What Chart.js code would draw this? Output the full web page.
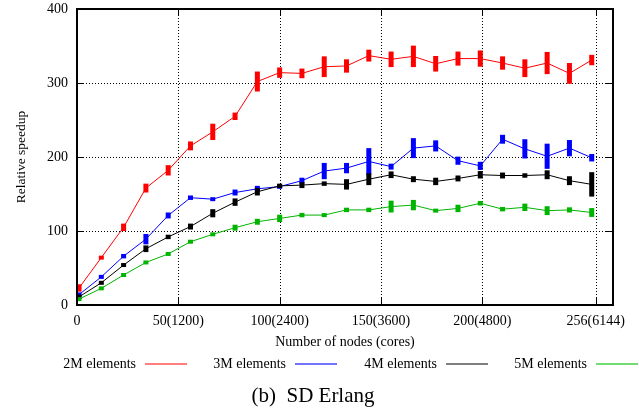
<!DOCTYPE html>
<html>
<head>
<meta charset="utf-8">
<script src="https://cdn.jsdelivr.net/npm/chart.js@4/dist/chart.umd.min.js"></script>
<style>
  html, body { margin: 0; padding: 0; background: #fff; }
  canvas { display: block; }
</style>
</head>
<body>
<canvas id="c" width="639" height="412"></canvas>
<script>
// ---- data ----
const nodes = [1, 12, 23, 34, 45, 56, 67, 78, 89, 100, 111, 122, 133, 144, 155, 166, 177, 188, 199, 210, 221, 232, 243, 254];

const speedup2M = [23, 64, 105, 158, 182, 215, 234, 255, 302, 314, 313, 322, 323, 337, 332, 336, 326, 333, 333, 327, 320, 327, 313, 331];
const err2M     = [5, 2, 5, 6, 7, 6, 11, 5, 13.5, 7, 6.5, 14, 9, 8, 10.5, 14.5, 10.5, 9.5, 11, 9, 12, 15, 14, 7];

const speedup3M = [14, 38, 66, 89, 121, 145, 143, 152, 157, 160, 168, 181, 185, 194, 187, 212, 215, 195, 188, 224, 211, 201, 212, 199];
const err3M     = [3, 2, 3, 7, 4, 3, 2, 4, 4, 3, 4, 11, 7, 18, 4, 13.5, 7.5, 5.5, 5.5, 6, 13, 17, 11, 5];

const speedup4M = [11, 30, 54, 76, 92, 106, 124, 139, 153, 161, 162, 164, 163, 170, 176, 170, 167, 171, 176, 175, 175, 176, 168, 163];
const err4M     = [3, 2, 2, 4.5, 3, 4, 5.5, 5, 5, 3, 4, 3, 7, 8, 4.5, 4, 5, 4, 5, 4, 3, 6, 6, 16.5];

const speedup5M = [8, 22.5, 40.5, 57.5, 69, 85.5, 95.5, 104.5, 112.5, 117, 121.5, 121.5, 128.5, 128.5, 133, 135, 127.5, 130.5, 137.5, 129.5, 132, 127.5, 128.5, 125];
const err5M     = [2, 2, 2, 2, 2, 2.5, 2.5, 4, 4, 5, 3, 2.5, 3, 3, 8, 7, 2.5, 5, 3, 3, 5, 6, 3.5, 6];

const seriesNames = ['2M elements', '3M elements', '4M elements', '5M elements'];
const seriesValues = [speedup2M, speedup3M, speedup4M, speedup5M];
const seriesErrors = [err2M, err3M, err4M, err5M];

const xTickValues = [0, 50, 100, 150, 200, 256];
const xTickLabels = ['0', '50(1200)', '100(2400)', '150(3600)', '200(4800)', '256(6144)'];
const yTickValues = [0, 100, 200, 300, 400];

const xTitle = 'Number of nodes (cores)';
const yTitle = 'Relative speedup';
const caption = '(b)  SD Erlang';

// ---- styles ----
const colors = ['#ff0000', '#0000ff', '#000000', '#00b400'];
const legendColors = ['rgba(255,0,0,0.5)', 'rgba(0,0,255,0.55)', 'rgba(0,0,0,0.5)', 'rgba(0,190,0,0.55)'];
const FONT = "'Liberation Serif', 'Times New Roman', serif";

Chart.defaults.font.family = FONT;
Chart.defaults.font.size = 14;
Chart.defaults.color = '#000';

const deco = {
  id: 'deco',
  beforeDatasetsDraw(chart) {
    const { ctx, chartArea: a, scales: { x, y } } = chart;
    ctx.save();
    ctx.strokeStyle = '#000';
    ctx.lineWidth = 1;
    ctx.setLineDash([1, 2]);
    xTickValues.forEach(v => {
      if (v <= 0) return;
      const px = Math.round(x.getPixelForValue(v)) + 0.5;
      ctx.beginPath(); ctx.moveTo(px, a.top); ctx.lineTo(px, a.bottom); ctx.stroke();
    });
    yTickValues.forEach(v => {
      if (v <= 0 || v >= 400) return;
      const py = Math.round(y.getPixelForValue(v)) + 0.5;
      ctx.beginPath(); ctx.moveTo(a.left, py); ctx.lineTo(a.right, py); ctx.stroke();
    });
    ctx.restore();
  },
  afterDatasetDraw(chart, args) {
    const i = args.index;
    const { ctx, scales: { y } } = chart;
    const meta = chart.getDatasetMeta(i);
    const vals = seriesValues[i], errs = seriesErrors[i];
    ctx.save();
    ctx.fillStyle = colors[i];
    meta.data.forEach((pt, j) => {
      let top = y.getPixelForValue(vals[j] + errs[j]);
      let bot = y.getPixelForValue(vals[j] - errs[j]);
      if (bot - top < 4) { const c = (top + bot) / 2; top = c - 2; bot = c + 2; }
      ctx.fillRect(pt.x - 2.5, top, 5, bot - top);
    });
    ctx.restore();
  },
  afterDraw(chart) {
    const { ctx, chartArea: a, scales: { x, y } } = chart;
    ctx.save();
    // border
    ctx.strokeStyle = '#000';
    ctx.lineWidth = 2;
    ctx.strokeRect(a.left, a.top, a.right - a.left, a.bottom - a.top);
    // inward ticks (mirrored)
    ctx.lineWidth = 1;
    const tl = 7;
    xTickValues.forEach(v => {
      const px = Math.round(x.getPixelForValue(v)) + 0.5;
      ctx.beginPath();
      ctx.moveTo(px, a.bottom); ctx.lineTo(px, a.bottom - tl);
      ctx.moveTo(px, a.top); ctx.lineTo(px, a.top + tl);
      ctx.stroke();
    });
    yTickValues.forEach(v => {
      const py = Math.round(y.getPixelForValue(v)) + 0.5;
      ctx.beginPath();
      ctx.moveTo(a.left, py); ctx.lineTo(a.left + tl, py);
      ctx.moveTo(a.right, py); ctx.lineTo(a.right - tl, py);
      ctx.stroke();
    });
    // axis titles
    ctx.fillStyle = '#000';
    ctx.font = '14px ' + FONT;
    ctx.textAlign = 'center';
    ctx.textBaseline = 'middle';
    ctx.fillText(xTitle, (a.left + a.right) / 2, 342);
    ctx.save();
    ctx.translate(21, (a.top + a.bottom) / 2);
    ctx.rotate(-Math.PI / 2);
    ctx.font = '13.5px ' + FONT;
    ctx.fillText(yTitle, 0, 0);
    ctx.restore();
    // legend: text then line sample
    const textRight = [136, 286, 437, 587];
    ctx.font = '14px ' + FONT;
    ctx.textAlign = 'right';
    seriesNames.forEach((name, i) => {
      ctx.fillStyle = '#000';
      ctx.fillText(name, textRight[i], 364);
      ctx.strokeStyle = legendColors[i];
      ctx.lineWidth = 2;
      ctx.beginPath();
      ctx.moveTo(textRight[i] + 9, 364);
      ctx.lineTo(textRight[i] + 51, 364);
      ctx.stroke();
    });
    // caption
    ctx.font = '21px ' + FONT;
    ctx.textAlign = 'center';
    ctx.fillStyle = '#000';
    ctx.fillText(caption, 313, 396);
    ctx.restore();
  }
};

const datasets = seriesNames.map((name, i) => ({
  label: name,
  data: nodes.map((n, j) => ({ x: n, y: seriesValues[i][j] })),
  borderColor: colors[i],
  backgroundColor: colors[i],
  borderWidth: 1,
  pointRadius: 0,
  tension: 0,
  order: 3 - i
}));

new Chart(document.getElementById('c'), {
  type: 'line',
  data: { datasets },
  options: {
    responsive: false,
    animation: false,
    devicePixelRatio: 1,
    layout: { padding: { top: 9, right: 26, left: 0, bottom: 0 } },
    plugins: { legend: { display: false }, tooltip: { enabled: false }, title: { display: false } },
    scales: {
      x: {
        type: 'linear',
        min: 0,
        max: 264.5,
        afterBuildTicks: s => { s.ticks = xTickValues.map(v => ({ value: v })); },
        afterFit: s => { s.height = 107; s.paddingLeft = 0; s.paddingRight = 0; },
        grid: { display: false, drawTicks: false },
        border: { display: false },
        ticks: {
          autoSkip: false,
          maxRotation: 0,
          padding: 8,
          font: { size: 14 },
          callback: v => { const k = xTickValues.indexOf(v); return k >= 0 ? xTickLabels[k] : ''; }
        }
      },
      y: {
        min: 0,
        max: 400,
        afterBuildTicks: s => { s.ticks = yTickValues.map(v => ({ value: v })); },
        afterFit: s => { s.width = 77; s.paddingTop = 0; s.paddingBottom = 0; },
        grid: { display: false, drawTicks: false },
        border: { display: false },
        ticks: { padding: 9, font: { size: 14 } }
      }
    }
  },
  plugins: [deco]
});
</script>
</body>
</html>
